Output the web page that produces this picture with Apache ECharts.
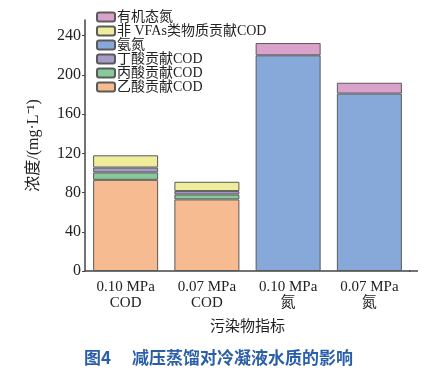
<!DOCTYPE html>
<html><head><meta charset="utf-8">
<script src="https://cdn.jsdelivr.net/npm/echarts@6/dist/echarts.min.js"></script>
<style>html,body{margin:0;padding:0;background:#fff}#c{width:444px;height:371px}</style>
</head><body><div id="c"></div>
<script>
const categories = ['0.10 MPa\nCOD', '0.07 MPa\nCOD', '0.10 MPa\n氮', '0.07 MPa\n氮'];
const acetic = [93, 73, null, null];
const propionic = [7.5, 5, null, null];
const butyric = [5, 3.5, null, null];
const ammonia = [null, null, 220, 181];
const nonVFA = [12.5, 9.5, null, null];
const organicN = [null, null, 12.5, 11];
const yTicks = [0, 40, 80, 120, 160, 200, 240];

const serif = '"Liberation Serif","Noto Sans CJK SC",serif';
const chart = echarts.init(document.getElementById('c'));
const border = {borderColor: '#5a5a5a', borderWidth: 1};
function s(name, data, color) {
  return {name, type: 'bar', stack: 'total', data, barWidth: '80%',
    itemStyle: Object.assign({color}, border)};
}
chart.setOption({
  animation: false,
  title: {text: '图4\u3000 减压蒸馏对冷凝液水质的影响', left: 79, top: 344,
    textStyle: {color: '#2a5ea9', fontSize: 17, fontWeight: 'bold', fontFamily: '"Noto Sans CJK SC",sans-serif'}},
  legend: {
    left: 91, top: 5, orient: 'vertical', itemWidth: 18, itemHeight: 9, itemGap: 0,
    textStyle: {fontSize: 14, lineHeight: 14, fontFamily: serif, color: '#222', padding: [0,0,0,-3]},
    data: ['有机态氮', '非VFAs类物质贡献COD', '氨氮', '丁酸贡献COD', '丙酸贡献COD', '乙酸贡献COD'],
    formatter: n => n === '非VFAs类物质贡献COD' ? '非 VFAs类物质贡献COD' : n
  },
  grid: {left: 85, right: 34, top: 20, bottom: 100},
  graphic: [{type: 'line', shape: {x1: 409, y1: 271, x2: 418, y2: 271}, style: {stroke: '#444', lineWidth: 1.5}}],
  xAxis: {
    type: 'category', data: categories,
    name: '污染物指标', nameLocation: 'middle', nameGap: 49,
    nameTextStyle: {fontSize: 15, fontFamily: serif, color: '#222'},
    axisLine: {lineStyle: {color: '#444', width: 1.5}},
    axisTick: {show: false},
    axisLabel: {fontSize: 15, fontFamily: serif, color: '#222', lineHeight: 16, margin: 8}
  },
  yAxis: {
    type: 'value', min: 0, max: 256, interval: 40,
    name: '浓度/(mg·L⁻¹)', nameLocation: 'middle', nameGap: 43, nameRotate: 90,
    nameTextStyle: {fontSize: 16, fontFamily: serif, color: '#222'},
    axisLine: {show: true, lineStyle: {color: '#444', width: 1.5}},
    axisTick: {show: true, inside: false, length: 3, lineStyle: {color: '#444'}},
    splitLine: {show: false},
    axisLabel: {fontSize: 16, fontFamily: serif, color: '#222', showMaxLabel: false, margin: 4,
      formatter: v => yTicks.includes(v) ? String(v) : ''}
  },
  series: [
    s('乙酸贡献COD', acetic, '#f6bb90'),
    s('丙酸贡献COD', propionic, '#88c99b'),
    s('丁酸贡献COD', butyric, '#a79bc7'),
    s('氨氮', ammonia, '#87a9da'),
    s('非VFAs类物质贡献COD', nonVFA, '#efec9b'),
    s('有机态氮', organicN, '#d9a2cb')
  ]
});
</script></body></html>
